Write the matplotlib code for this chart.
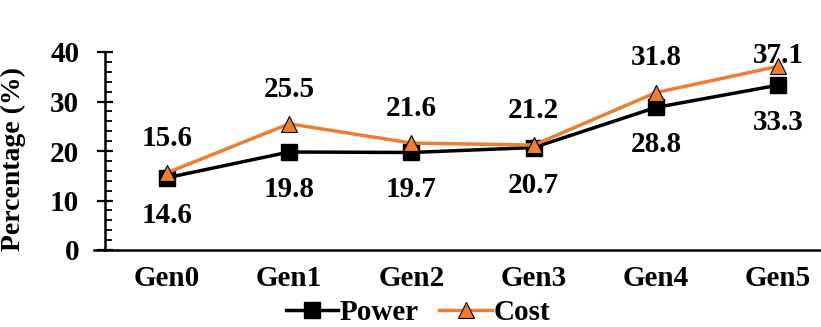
import matplotlib.pyplot as plt
from matplotlib.ticker import MultipleLocator

gens = ['Gen0', 'Gen1', 'Gen2', 'Gen3', 'Gen4', 'Gen5']
power = [14.6, 19.8, 19.7, 20.7, 28.8, 33.3]
cost = [15.6, 25.5, 21.6, 21.2, 31.8, 37.1]

orange = '#ED7D31'
fs = 21
plt.rcParams['font.family'] = ['Liberation Serif', 'DejaVu Serif']
plt.rcParams['font.weight'] = 'bold'

fig = plt.figure(figsize=(8.21, 3.27), dpi=100)
ax = fig.add_axes([105 / 821, 77 / 327, 716 / 821, 198 / 327])

x = list(range(len(gens)))
ax.plot(x, power, color='black', lw=2.5, marker='s', ms=11,
        mfc='black', mec='black', label='Power', zorder=3)
ax.plot(x, cost, color=orange, lw=2.5, marker='^', ms=12,
        mfc=orange, mec='black', mew=0.8, label='Cost', zorder=4)

# value labels: power below, cost above
for i, v in enumerate(power):
    ax.annotate(f'{v}', (i, v), xytext=(0, -27), textcoords='offset points',
                ha='center', va='center', fontsize=fs, fontweight='bold')
for i, v in enumerate(cost):
    dy = 8 if i == len(cost) - 1 else 25
    ax.annotate(f'{v}', (i, v), xytext=(0, dy), textcoords='offset points',
                ha='center', va='center', fontsize=fs, fontweight='bold',
                zorder=5)

ax.set_xlim(-0.507, 5.35)
ax.set_ylim(0, 40)
ax.set_xticks(x)
ax.set_xticklabels(gens, fontsize=fs, fontweight='bold')
ax.tick_params(axis='x', length=0, pad=11)
ax.yaxis.set_major_locator(MultipleLocator(10))
ax.yaxis.set_minor_locator(MultipleLocator(2))
ax.tick_params(axis='y', which='major', direction='inout', length=11,
               width=1.6, labelsize=fs, pad=13)
ax.tick_params(axis='y', which='minor', direction='in', length=5, width=1.3)
for lab in ax.get_yticklabels():
    lab.set_fontweight('bold')
ax.set_ylabel('Percentage (%)', fontsize=20, fontweight='bold')
ax.yaxis.set_label_coords(-0.11, 0.46)

ax.spines['top'].set_visible(False)
ax.spines['right'].set_visible(False)
ax.spines['left'].set_linewidth(1.8)
ax.spines['bottom'].set_linewidth(1.8)
ax.spines['bottom'].set_bounds(-0.6, 5.4)

fig.legend(loc='center', bbox_to_anchor=(418 / 821, 0.045), ncol=2,
           frameon=False, handlelength=1.8, handletextpad=0.05,
           columnspacing=0.7, prop={'weight': 'bold', 'size': fs})

fig.savefig('out.png', dpi=100)
